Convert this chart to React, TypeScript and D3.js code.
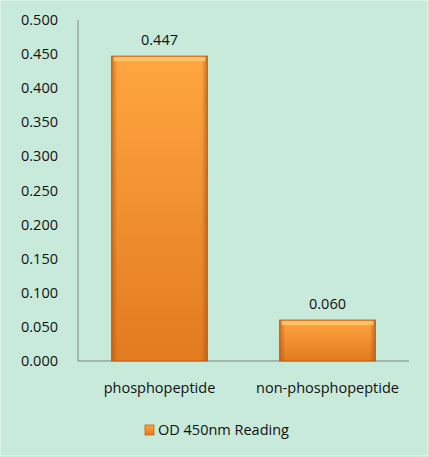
import { useEffect, useRef } from 'react';
import * as d3 from 'd3';

const categories = ['phosphopeptide', 'non-phosphopeptide'];
const values = [0.447, 0.06];
const valueLabels = ['0.447', '0.060'];
const yTicks = [0, 0.05, 0.1, 0.15, 0.2, 0.25, 0.3, 0.35, 0.4, 0.45, 0.5];
const seriesName = 'OD 450nm Reading';

const W = 429;
const H = 457;

export default function App() {
  const svgRef = useRef<SVGSVGElement>(null);

  useEffect(() => {
    if (!svgRef.current) return;
    const svg = d3.select(svgRef.current);
    svg.selectAll('*').remove();

    const font = '"Open Sans", "Liberation Sans", sans-serif';
    const fs = 14.5;
    const left = 78;
    const right = 409;
    const top = 20;
    const bottom = 361;

    const defs = svg.append('defs');
    const grad = defs.append('linearGradient').attr('id', 'barV').attr('x1', 0).attr('y1', 0).attr('x2', 0).attr('y2', 1);
    grad.append('stop').attr('offset', '0%').attr('stop-color', '#ffa640');
    grad.append('stop').attr('offset', '100%').attr('stop-color', '#e27a1f');
    const gradH = defs.append('linearGradient').attr('id', 'barH').attr('x1', 0).attr('y1', 0).attr('x2', 1).attr('y2', 0);
    gradH.append('stop').attr('offset', '0%').attr('stop-color', '#a9500c').attr('stop-opacity', 0.6);
    gradH.append('stop').attr('offset', '6%').attr('stop-color', '#a9500c').attr('stop-opacity', 0);
    gradH.append('stop').attr('offset', '94%').attr('stop-color', '#a9500c').attr('stop-opacity', 0);
    gradH.append('stop').attr('offset', '100%').attr('stop-color', '#a9500c').attr('stop-opacity', 0.6);

    // background
    svg.append('rect').attr('width', W).attr('height', H).attr('fill', '#c8eadb');
    svg.append('rect').attr('x', 0.5).attr('y', 0.5).attr('width', W - 2).attr('height', H - 2)
      .attr('fill', 'none').attr('stroke', '#d9f2e6').attr('stroke-width', 1);

    const x = d3.scaleBand<string>().domain(categories).range([left, right]).paddingInner(0.43).paddingOuter(0.2);
    const y = d3.scaleLinear().domain([0, 0.5]).range([bottom, top]);

    // axes
    svg.append('line').attr('x1', left).attr('x2', left).attr('y1', top).attr('y2', bottom)
      .attr('stroke', '#7a8580').attr('stroke-width', 1);
    svg.append('line').attr('x1', left).attr('x2', right).attr('y1', bottom).attr('y2', bottom)
      .attr('stroke', '#7a8580').attr('stroke-width', 1);

    svg.selectAll('.ytick').data(yTicks).enter().append('text')
      .attr('x', 58).attr('y', d => y(d)).attr('dy', '0.35em')
      .attr('text-anchor', 'end')
      .attr('font-family', font).attr('font-size', fs).attr('fill', '#111')
      .text(d => d.toFixed(3));

    // bars
    const bars = svg.selectAll('.bar').data(values).enter().append('g');
    bars.append('rect')
      .attr('x', (_, i) => x(categories[i])!)
      .attr('y', d => y(d))
      .attr('width', x.bandwidth())
      .attr('height', d => bottom - y(d))
      .attr('fill', 'url(#barV)');
    bars.append('rect')
      .attr('x', (_, i) => x(categories[i])!)
      .attr('y', d => y(d))
      .attr('width', x.bandwidth())
      .attr('height', d => bottom - y(d))
      .attr('fill', 'url(#barH)')
      .attr('stroke', '#c0621a').attr('stroke-width', 1);
    // top bevel highlight
    bars.append('rect')
      .attr('x', (_, i) => x(categories[i])! + 2)
      .attr('y', d => y(d) + 1)
      .attr('width', x.bandwidth() - 4)
      .attr('height', 4)
      .attr('fill', '#ffc86e').attr('opacity', 0.85);

    // value labels
    svg.selectAll('.vlabel').data(values).enter().append('text')
      .attr('x', (_, i) => x(categories[i])! + x.bandwidth() / 2)
      .attr('y', d => y(d) - 11)
      .attr('text-anchor', 'middle')
      .attr('font-family', font).attr('font-size', fs).attr('fill', '#111')
      .text((_, i) => valueLabels[i]);

    // category labels
    svg.selectAll('.xlabel').data(categories).enter().append('text')
      .attr('x', d => x(d)! + x.bandwidth() / 2)
      .attr('y', 388).attr('dy', '0.35em')
      .attr('text-anchor', 'middle')
      .attr('font-family', font).attr('font-size', fs).attr('fill', '#111')
      .text(d => d);

    // legend
    const lg = svg.append('g').attr('transform', 'translate(145, 425)');
    lg.append('rect').attr('width', 9).attr('height', 10).attr('fill', 'url(#barV)')
      .attr('stroke', '#c0621a').attr('stroke-width', 0.8);
    lg.append('text').attr('x', 13).attr('y', 5).attr('dy', '0.35em')
      .attr('font-family', font).attr('font-size', fs).attr('fill', '#111')
      .text(seriesName);
  }, []);

  return (
    <svg
      ref={svgRef}
      width={W}
      height={H}
      style={{ position: 'absolute', left: 0, top: 0 }}
    />
  );
}
